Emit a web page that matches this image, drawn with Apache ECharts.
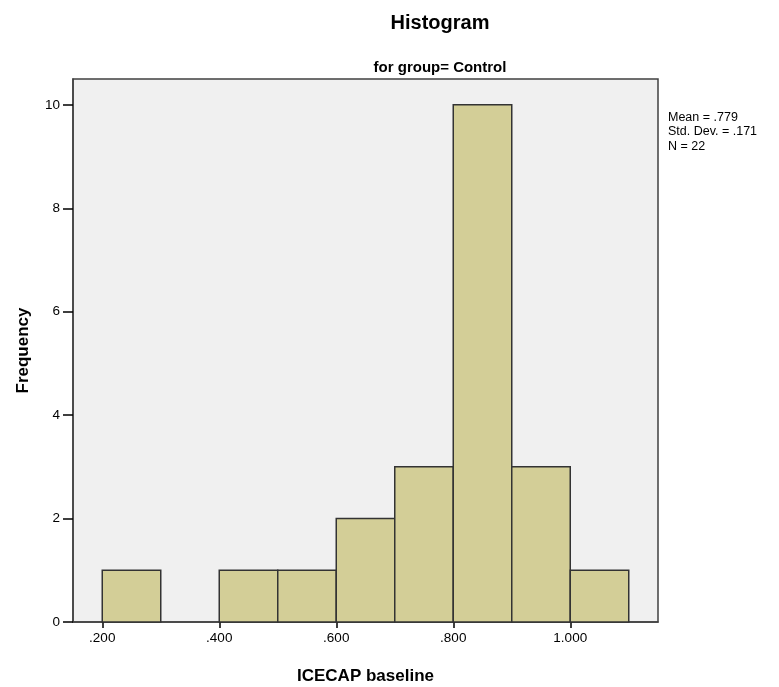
<!DOCTYPE html>
<html>
<head>
<meta charset="utf-8">
<script src="https://cdn.jsdelivr.net/npm/echarts@6/dist/echarts.min.js"></script>
<style>html,body{margin:0;padding:0;background:#fff;}#c{width:779px;height:687px;}</style>
</head>
<body>
<div id="c"></div>
<script>
const binStarts = [0.2, 0.4, 0.5, 0.6, 0.7, 0.8, 0.9, 1.0];
const binEnds   = [0.3, 0.5, 0.6, 0.7, 0.8, 0.9, 1.0, 1.1];
const frequencies = [1, 1, 1, 2, 3, 10, 3, 1];
const xTicks = [0.2, 0.4, 0.6, 0.8, 1.0];
const yTicks = [0, 2, 4, 6, 8, 10];
const statsLines = ['Mean = .779', 'Std. Dev. = .171', 'N = 22'];

const data = binStarts.map((s, i) => [s, binEnds[i], frequencies[i]]);
const chart = echarts.init(document.getElementById('c'));
const font = '"Liberation Sans Narrow", "Liberation Sans", Arial, sans-serif';
chart.setOption({
  animation: false,
  backgroundColor: '#ffffff',
  title: [
    {text: 'Histogram', left: 435, top: 8, textAlign: 'center',
     textStyle: {fontFamily: font, fontSize: 20, fontWeight: 'bold', color: '#000'}},
    {text: 'for group= Control', left: 435, top: 55, textAlign: 'center',
     textStyle: {fontFamily: font, fontSize: 15, fontWeight: 'bold', color: '#000'}}
  ],
  graphic: [{
    type: 'text', left: 668, top: 110,
    style: {text: statsLines.join('\n'), font: '12.5px "Liberation Sans", Arial, sans-serif', fill: '#000', lineHeight: 14.5}
  }],
  grid: {left: 73, right: 121, top: 79, bottom: 65, show: true, containLabel: false, outerBoundsMode: 'none',
         backgroundColor: '#f0f0f0', borderColor: '#404040', borderWidth: 1.5},
  xAxis: {
    type: 'value', min: 0.15, max: 1.15,
    name: 'ICECAP baseline', nameLocation: 'middle', nameGap: 46,
    nameTextStyle: {fontFamily: '"Liberation Sans", Arial, sans-serif', fontSize: 17, fontWeight: 'bold', color: '#000'},
    axisLine: {show: true, lineStyle: {color: '#404040', width: 1.5}},
    axisTick: {show: true, length: 6, customValues: xTicks, lineStyle: {color: '#000', width: 1.5}},
    axisLabel: {customValues: xTicks, color: '#000', fontSize: 13.5, fontFamily: font, margin: 9,
                formatter: v => (v >= 1 ? v.toFixed(3) : v.toFixed(3).replace(/^0/, ''))},
    splitLine: {show: false}
  },
  yAxis: {
    type: 'value', min: 0, max: 10.5,
    name: 'Frequency', nameLocation: 'middle', nameGap: 41,
    nameTextStyle: {fontFamily: '"Liberation Sans", Arial, sans-serif', fontSize: 17, fontWeight: 'bold', color: '#000'},
    axisLine: {show: true, lineStyle: {color: '#404040', width: 1.5}},
    axisTick: {show: true, length: 10, customValues: yTicks, lineStyle: {color: '#000', width: 1.5}},
    axisLabel: {customValues: yTicks, color: '#000', fontSize: 13.5, fontFamily: font, margin: 13},
    splitLine: {show: false}
  },
  series: [{
    type: 'custom',
    data: data,
    renderItem: function (params, api) {
      const p0 = api.coord([api.value(0), 0]);
      const p1 = api.coord([api.value(1), api.value(2)]);
      return {
        type: 'rect',
        shape: {x: p0[0], y: p1[1], width: p1[0] - p0[0], height: p0[1] - p1[1]},
        style: {fill: '#d3ce97', stroke: '#333333', lineWidth: 1.5}
      };
    },
    encode: {x: [0, 1], y: 2}
  }]
});
</script>
</body>
</html>
